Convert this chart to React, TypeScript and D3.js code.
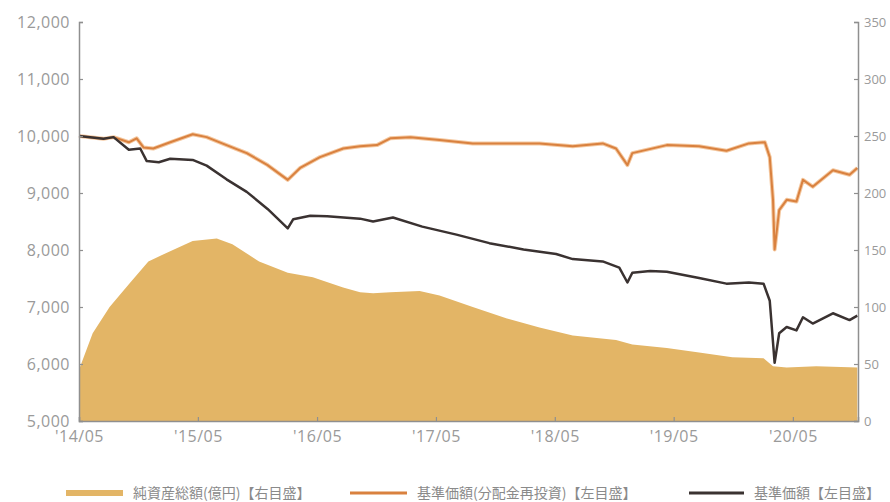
import { useRef, useEffect } from "react";
import * as d3 from "d3";

// 基準価額【左目盛】
const navPoints: [string, number][] = [
  ["2014-05-01", 10000], ["2014-07-15", 9950], ["2014-08-15", 9980], ["2014-10-01", 9760],
  ["2014-11-05", 9780], ["2014-11-25", 9560], ["2015-01-01", 9540], ["2015-02-05", 9600],
  ["2015-04-15", 9580], ["2015-05-28", 9480], ["2015-07-28", 9240], ["2015-09-28", 9020],
  ["2015-12-01", 8720], ["2016-02-01", 8380], ["2016-02-18", 8540], ["2016-04-10", 8600],
  ["2016-06-01", 8590], ["2016-09-10", 8550], ["2016-10-20", 8500], ["2016-12-20", 8570],
  ["2017-03-20", 8410], ["2017-07-03", 8270], ["2017-10-12", 8120], ["2018-01-25", 8010],
  ["2018-05-05", 7930], ["2018-06-25", 7840], ["2018-09-25", 7800], ["2018-11-15", 7690],
  ["2018-12-10", 7430], ["2018-12-25", 7600], ["2019-02-18", 7630], ["2019-04-10", 7620],
  ["2019-07-18", 7510], ["2019-10-10", 7410], ["2019-12-18", 7430], ["2020-02-01", 7410],
  ["2020-02-20", 7110], ["2020-03-06", 6020], ["2020-03-20", 6540], ["2020-04-12", 6650],
  ["2020-05-12", 6590], ["2020-06-01", 6820], ["2020-07-01", 6710], ["2020-09-01", 6890],
  ["2020-10-22", 6770], ["2020-11-15", 6850],
];

// 基準価額(分配金再投資)【左目盛】
const reinvPoints: [string, number][] = [
  ["2014-05-01", 10000], ["2014-07-15", 9950], ["2014-08-15", 9980], ["2014-10-01", 9890],
  ["2014-10-25", 9960], ["2014-11-15", 9800], ["2014-12-15", 9780], ["2015-02-05", 9890],
  ["2015-04-15", 10030], ["2015-05-28", 9980], ["2015-07-28", 9840], ["2015-09-28", 9700],
  ["2015-12-01", 9490], ["2016-02-01", 9230], ["2016-03-10", 9440], ["2016-05-10", 9630],
  ["2016-07-20", 9780], ["2016-09-10", 9820], ["2016-11-01", 9840], ["2016-12-12", 9960],
  ["2017-02-12", 9980], ["2017-05-12", 9930], ["2017-08-22", 9870], ["2017-12-05", 9870],
  ["2018-03-15", 9870], ["2018-06-25", 9820], ["2018-09-25", 9870], ["2018-11-05", 9780],
  ["2018-12-10", 9490], ["2018-12-25", 9700], ["2019-04-10", 9840], ["2019-07-18", 9820],
  ["2019-10-10", 9740], ["2019-12-18", 9870], ["2020-02-05", 9890], ["2020-02-20", 9630],
  ["2020-03-01", 8880], ["2020-03-06", 8010], ["2020-03-20", 8700], ["2020-04-12", 8880],
  ["2020-05-12", 8850], ["2020-06-01", 9230], ["2020-07-01", 9110], ["2020-09-01", 9400],
  ["2020-10-22", 9320], ["2020-11-15", 9440],
];

// 純資産総額(億円)【右目盛】
const assetPoints: [string, number][] = [
  ["2014-05-01", 45], ["2014-06-12", 77], ["2014-08-03", 100], ["2014-10-01", 120],
  ["2014-11-30", 140], ["2015-02-05", 149], ["2015-04-15", 158], ["2015-06-28", 160],
  ["2015-08-15", 155], ["2015-11-05", 140], ["2016-02-01", 130], ["2016-04-18", 126],
  ["2016-07-20", 117], ["2016-09-10", 113], ["2016-10-20", 112], ["2016-12-12", 113],
  ["2017-03-12", 114], ["2017-05-12", 110], ["2017-08-22", 100], ["2017-12-05", 90],
  ["2018-03-15", 82], ["2018-06-25", 75], ["2018-11-05", 71], ["2018-12-25", 67],
  ["2019-04-10", 64], ["2019-07-18", 60], ["2019-10-28", 56], ["2020-02-01", 55],
  ["2020-03-01", 48], ["2020-04-12", 47], ["2020-07-12", 48], ["2020-11-15", 47],
];

const leftTicks = [5000, 6000, 7000, 8000, 9000, 10000, 11000, 12000];
const rightTicks = [0, 50, 100, 150, 200, 250, 300, 350];
const xTickDates = ["2014-05-01", "2015-05-01", "2016-05-01", "2017-05-01", "2018-05-01", "2019-05-01", "2020-05-01"];
const legendLabels = ["純資産総額(億円)【右目盛】", "基準価額(分配金再投資)【左目盛】", "基準価額【左目盛】"];

export default function App() {
  const svgRef = useRef<SVGSVGElement | null>(null);

  useEffect(() => {
    if (!svgRef.current) return;
    const svg = d3.select(svgRef.current);
    svg.selectAll("*").remove();

    const margin = { top: 22, right: 32, bottom: 81, left: 79 };
    const width = 890;
    const height = 502;
    const axisColor = "#8f8f8f";
    const textColor = "#9a9a9a";
    const numFont = "'Open Sans', 'DejaVu Sans', sans-serif";
    const cjkFont = "'Noto Sans CJK JP', sans-serif";

    const parse = d3.timeParse("%Y-%m-%d");
    const toRows = (pts: [string, number][]) => pts.map(([d, v]) => ({ date: parse(d)!, value: v }));
    const nav = toRows(navPoints);
    const reinv = toRows(reinvPoints);
    const assets = toRows(assetPoints);

    const x = d3
      .scaleTime()
      .domain([parse("2014-05-01")!, parse("2020-11-17")!])
      .range([margin.left, width - margin.right]);
    const yL = d3.scaleLinear().domain([5000, 12000]).range([height - margin.bottom, margin.top]);
    const yR = d3.scaleLinear().domain([0, 350]).range([height - margin.bottom, margin.top]);

    const area = d3
      .area<{ date: Date; value: number }>()
      .x((d) => x(d.date))
      .y0(yR(0))
      .y1((d) => yR(d.value));
    svg.append("path").datum(assets).attr("fill", "#e3b566").attr("d", area as any);

    const lineL = d3
      .line<{ date: Date; value: number }>()
      .x((d) => x(d.date))
      .y((d) => yL(d.value));

    svg
      .append("path")
      .datum(reinv)
      .attr("fill", "none")
      .attr("stroke", "#f4c8a0")
      .attr("stroke-width", 4)
      .attr("stroke-linejoin", "round")
      .attr("d", lineL as any);
    svg
      .append("path")
      .datum(reinv)
      .attr("fill", "none")
      .attr("stroke", "#d9813f")
      .attr("stroke-width", 2)
      .attr("stroke-linejoin", "round")
      .attr("d", lineL as any);
    svg
      .append("path")
      .datum(nav)
      .attr("fill", "none")
      .attr("stroke", "#3a3231")
      .attr("stroke-width", 2.5)
      .attr("stroke-linejoin", "round")
      .attr("d", lineL as any);

    // axes
    const left = svg.append("g").attr("transform", `translate(${margin.left},0)`).call(d3.axisLeft(yL).tickValues(leftTicks).tickSize(-4).tickPadding(9).tickFormat(d3.format(",")));
    const right = svg.append("g").attr("transform", `translate(${width - margin.right},0)`).call(d3.axisRight(yR).tickValues(rightTicks).tickSize(-4).tickPadding(6));
    const bottom = svg
      .append("g")
      .attr("transform", `translate(0,${height - margin.bottom})`)
      .call(
        d3
          .axisBottom<Date>(x)
          .tickValues(xTickDates.map((d) => parse(d)!))
          .tickSize(-4)
          .tickPadding(10)
          .tickFormat((d) => "'" + d3.timeFormat("%y/%m")(d))
      );

    [left, right, bottom].forEach((g) => {
      g.selectAll(".domain").attr("stroke", axisColor).attr("stroke-width", 1.5);
      g.selectAll(".tick line").attr("stroke", axisColor).attr("stroke-width", 1.2);
      g.selectAll("text").attr("fill", textColor).style("font-family", numFont).style("font-size", "16px").style("letter-spacing", "0.5px");
    });
    right.selectAll("text").style("font-size", "13px").style("letter-spacing", "0px");

    // legend
    const legend = svg.append("g").attr("transform", "translate(0,493)");
    const items = [
      { x: 66, w: 57, color: "#e3b566", sw: 6, label: legendLabels[0] },
      { x: 350, w: 57, color: "#d9813f", sw: 3, label: legendLabels[1] },
      { x: 689, w: 55, color: "#3a3231", sw: 3, label: legendLabels[2] },
    ];
    items.forEach((it) => {
      legend
        .append("line")
        .attr("x1", it.x)
        .attr("x2", it.x + it.w)
        .attr("y1", 0)
        .attr("y2", 0)
        .attr("stroke", it.color)
        .attr("stroke-width", it.sw);
      legend
        .append("text")
        .attr("x", it.x + it.w + 10)
        .attr("y", 5)
        .attr("fill", "#8a8a8a")
        .style("font-family", cjkFont)
        .style("font-size", "14px")
        .text(it.label);
    });
  }, []);

  return (
    <svg
      ref={svgRef}
      width={890}
      height={502}
      viewBox="0 0 890 502"
      style={{ position: "absolute", left: 0, top: 0, background: "#fff" }}
    ></svg>
  );
}
